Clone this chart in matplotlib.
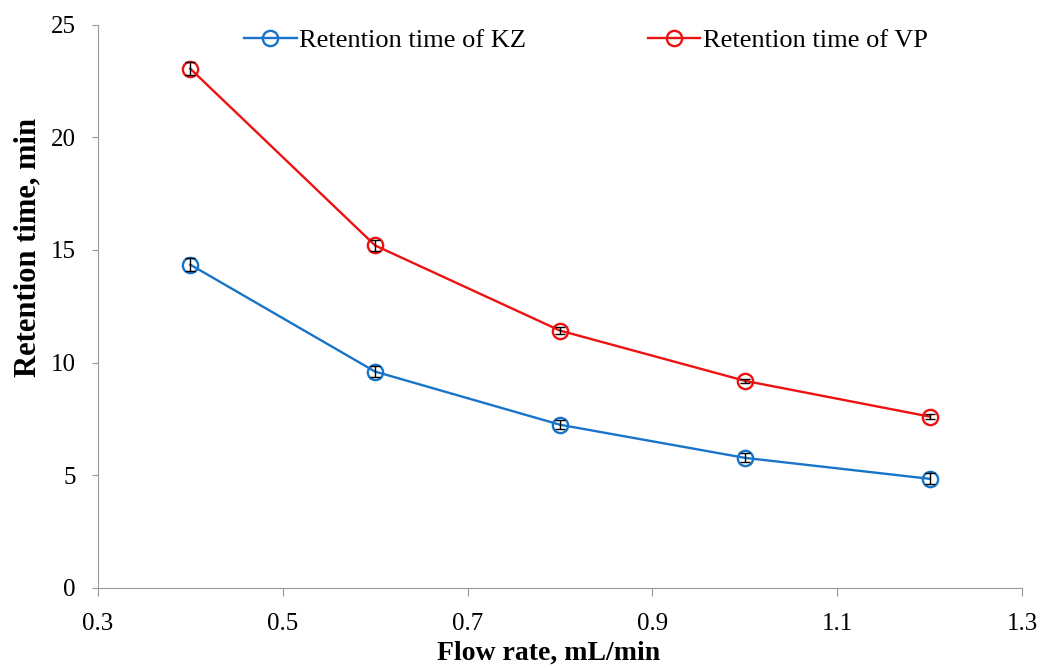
import matplotlib
matplotlib.use("Agg")
import matplotlib.pyplot as plt

plt.rcParams['font.family'] = ['Liberation Serif', 'DejaVu Serif']

flow = [0.4, 0.6, 0.8, 1.0, 1.2]
kz = [14.35, 9.6, 7.24, 5.77, 4.84]
vp = [23.05, 15.2, 11.42, 9.19, 7.6]
kz_err = [0.3, 0.25, 0.2, 0.2, 0.25]
vp_err = [0.3, 0.25, 0.15, 0.1, 0.1]

fig = plt.figure(figsize=(10.4, 6.68), dpi=100)
ax = fig.add_axes([0.094, 0.12, 0.889, 0.843])

ax.plot(flow, kz, color='#1874c8', lw=1.7, marker='o', ms=11, mfc='none',
        mew=1.7, label='Retention time of KZ', zorder=3)
ax.errorbar(flow, kz, yerr=kz_err, fmt='none', ecolor='black', elinewidth=1,
            capsize=3.5, zorder=4)
ax.plot(flow, vp, color='#ee1111', lw=1.7, marker='o', ms=11, mfc='none',
        mew=1.7, label='Retention time of VP', zorder=3)
ax.errorbar(flow, vp, yerr=vp_err, fmt='none', ecolor='black', elinewidth=1,
            capsize=3.5, zorder=4)

ax.set_xlim(0.3, 1.3)
ax.set_ylim(0, 25)
ax.set_xticks([0.3, 0.5, 0.7, 0.9, 1.1, 1.3])
ax.set_yticks([0, 5, 10, 15, 20, 25])
ax.set_xticklabels(['0.3', '0.5', '0.7', '0.9', '1.1', '1.3'])
ax.tick_params(axis='both', labelsize=18, colors='black')
ax.tick_params(axis='x', length=6, color='#999999', pad=12)
ax.tick_params(axis='y', length=4, color='#999999', pad=12)

for s in ['top', 'right']:
    ax.spines[s].set_visible(False)
for s in ['left', 'bottom']:
    ax.spines[s].set_color('#999999')

ax.set_xlabel('Flow rate, mL/min', fontsize=20, fontweight='bold')
ax.xaxis.set_label_coords(0.488, -0.093)
ax.set_ylabel('Retention time, min', fontsize=22, fontweight='bold')
ax.yaxis.set_label_coords(-0.06, 0.604)

ax.legend(loc='center', bbox_to_anchor=(0.528, 0.972), ncol=2, frameon=False,
          fontsize=19, columnspacing=4.6, handlelength=2.0, handletextpad=0.1)

fig.savefig('out.png', dpi=100)
